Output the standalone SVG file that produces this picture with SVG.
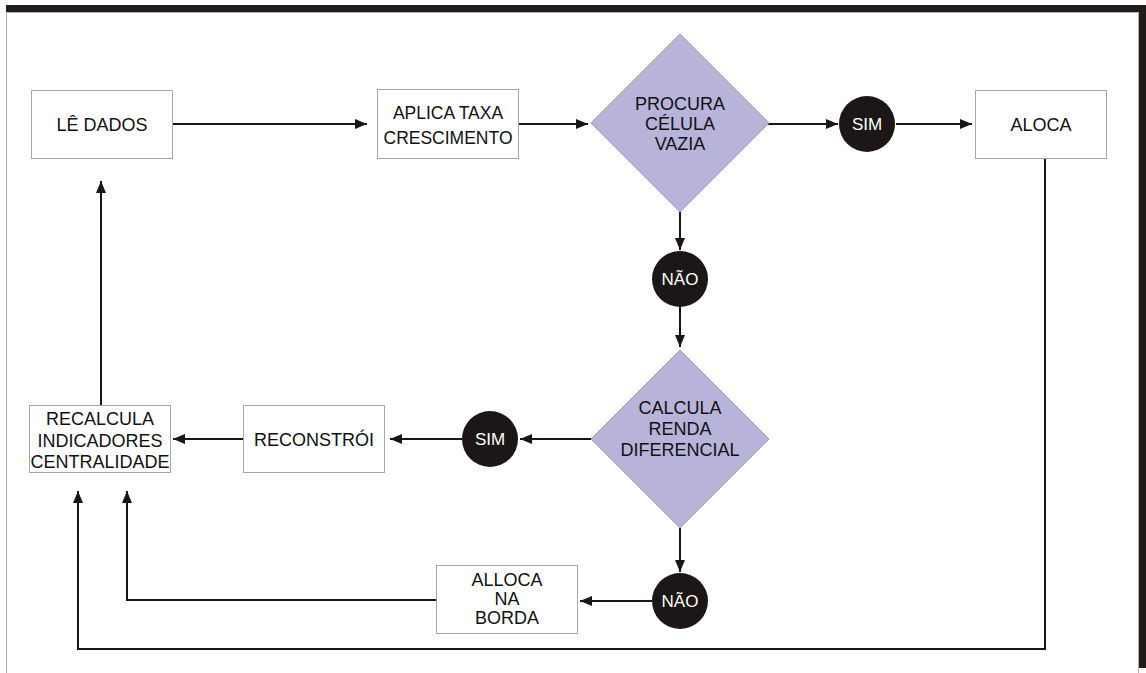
<svg xmlns="http://www.w3.org/2000/svg" width="1146" height="673" viewBox="0 0 1146 673">
<defs>
<marker id="ah" viewBox="0 0 12 10" refX="12" refY="5" markerWidth="12" markerHeight="10" markerUnits="userSpaceOnUse" orient="auto">
<path d="M0,0 L12,5 L0,10 Z" fill="#1a1616"/>
</marker>
<style>
.box{fill:#fff;stroke:#a8a8a8;stroke-width:1}
.dia{fill:#b8b3d9;stroke:#a09cc0;stroke-width:1}
.circ{fill:#1c1616}
.t{font-family:"Liberation Sans",Arial,sans-serif;font-size:17.5px;fill:#111;text-anchor:middle}
.tw{font-family:"Liberation Sans",Arial,sans-serif;font-size:17px;fill:#fff;text-anchor:middle}
.c{fill:none;stroke:#1a1616;stroke-width:2}
</style>
</defs>
<rect width="1146" height="673" fill="#fff"/>
<g id="frame">
<rect x="6" y="5" width="1140" height="7" fill="#211c19"/>
<rect x="1139" y="5" width="7" height="663" fill="#211c19"/>
<path d="M6.5,673 V12.5 H1138.5 V673" fill="none" stroke="#b0b0b0" stroke-width="1"/>
</g>
<g id="connectors">
<path class="c" d="M172,124 H367" marker-end="url(#ah)"/>
<path class="c" d="M518,124 H588" marker-end="url(#ah)"/>
<path class="c" d="M768,124 H838" marker-end="url(#ah)"/>
<path class="c" d="M896,124 H972" marker-end="url(#ah)"/>
<path class="c" d="M680,212 V250" marker-end="url(#ah)"/>
<path class="c" d="M680,307 V347" marker-end="url(#ah)"/>
<path class="c" d="M591,439 H520" marker-end="url(#ah)"/>
<path class="c" d="M462,439 H390" marker-end="url(#ah)"/>
<path class="c" d="M243,439 H173" marker-end="url(#ah)"/>
<path class="c" d="M101,405 V181" marker-end="url(#ah)"/>
<path class="c" d="M680,528 V572" marker-end="url(#ah)"/>
<path class="c" d="M652,601 H580" marker-end="url(#ah)"/>
<path class="c" d="M436,600 H127 V491" marker-end="url(#ah)"/>
<path class="c" d="M1045,158 V649 H78 V491" marker-end="url(#ah)"/>
</g>
<g id="le-dados">
<rect class="box" x="31.5" y="90.5" width="141" height="68"/>
<text class="t" x="102" y="131" style="font-size:18px">LÊ DADOS</text>
</g>
<g id="aplica-taxa">
<rect class="box" x="377.5" y="89.5" width="141" height="69"/>
<text class="t" x="448" y="119">APLICA TAXA</text>
<text class="t" x="448" y="144">CRESCIMENTO</text>
</g>
<g id="procura-celula">
<path class="dia" d="M680,34 L769,123 L680,212 L591,123 Z"/>
<text class="t" x="680" y="110" style="font-size:18px">PROCURA</text>
<text class="t" x="680" y="130" style="font-size:18px">CÉLULA</text>
<text class="t" x="680" y="150" style="font-size:18px">VAZIA</text>
</g>
<g id="sim1">
<circle class="circ" cx="867" cy="124" r="28"/>
<text class="tw" x="867" y="130">SIM</text>
</g>
<g id="aloca">
<rect class="box" x="975.5" y="90.5" width="131" height="68"/>
<text class="t" x="1041" y="131" style="font-size:18px">ALOCA</text>
</g>
<g id="nao1">
<circle class="circ" cx="680" cy="279" r="28"/>
<text class="tw" x="680" y="285">NÃO</text>
</g>
<g id="calcula-renda">
<path class="dia" d="M680,350 L769,439 L680,528 L591,439 Z"/>
<text class="t" x="680" y="414" style="font-size:18px">CALCULA</text>
<text class="t" x="680" y="435" style="font-size:18px">RENDA</text>
<text class="t" x="680" y="456" style="font-size:18px">DIFERENCIAL</text>
</g>
<g id="sim2">
<circle class="circ" cx="490" cy="439" r="28"/>
<text class="tw" x="490" y="445">SIM</text>
</g>
<g id="reconstroi">
<rect class="box" x="243.5" y="405.5" width="141" height="67"/>
<text class="t" x="314" y="446" style="font-size:18px">RECONSTRÓI</text>
</g>
<g id="recalcula">
<rect class="box" x="29.5" y="405.5" width="141" height="67"/>
<text class="t" x="100" y="425" style="font-size:18px">RECALCULA</text>
<text class="t" x="100" y="447" style="font-size:18px">INDICADORES</text>
<text class="t" x="100" y="468" style="font-size:18px">CENTRALIDADE</text>
</g>
<g id="nao2">
<circle class="circ" cx="680" cy="601" r="28"/>
<text class="tw" x="680" y="607">NÃO</text>
</g>
<g id="alloca-borda">
<rect class="box" x="436.5" y="565.5" width="141" height="68"/>
<text class="t" x="507" y="586" style="font-size:18px">ALLOCA</text>
<text class="t" x="507" y="605" style="font-size:18px">NA</text>
<text class="t" x="507" y="624" style="font-size:18px">BORDA</text>
</g>
</svg>
